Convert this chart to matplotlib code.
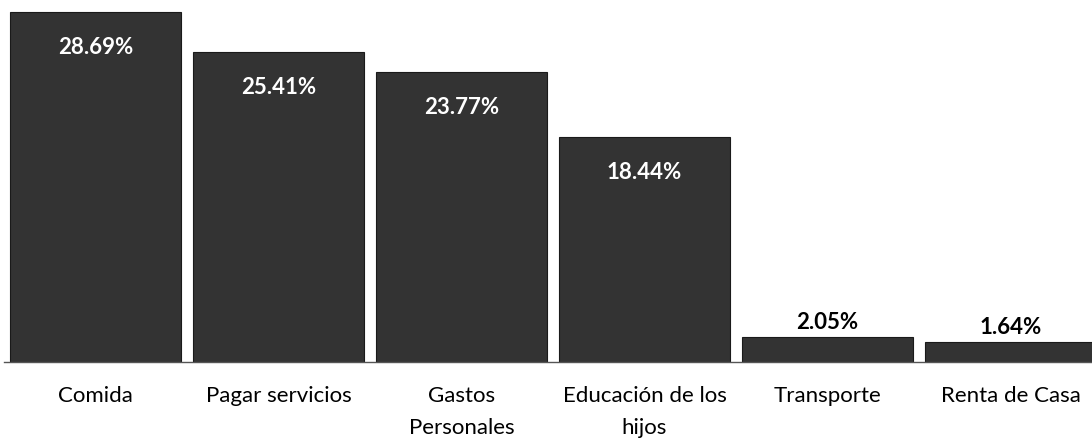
import matplotlib.pyplot as plt

categories = ["Comida", "Pagar servicios", "Gastos\nPersonales",
              "Educación de los\nhijos", "Transporte", "Renta de Casa"]
values = [28.69, 25.41, 23.77, 18.44, 2.05, 1.64]
labels = ["28.69%", "25.41%", "23.77%", "18.44%", "2.05%", "1.64%"]

plt.rcParams["font.family"] = ["Lato", "DejaVu Sans"]

fig = plt.figure(figsize=(10.92, 4.40), dpi=100)
ax = fig.add_axes([4 / 1092, 78 / 440, 1098 / 1092, 351 / 440])

x = list(range(len(categories)))
bars = ax.bar(x, values, width=0.935, color="#333333", edgecolor="#1a1a1a", linewidth=0.8)

for xi, v, lab in zip(x, values, labels):
    if v > 10:
        ax.text(xi, v - 2.9, lab, ha="center", va="center", color="white",
                fontsize=16, fontweight="bold")
    else:
        ax.text(xi, v + 1.15, lab, ha="center", va="center", color="black",
                fontsize=16, fontweight="bold")

ax.set_xlim(-0.5, len(categories) - 0.5)
ax.set_ylim(0, 28.69 * 351 / 350)
ax.set_xticks(x)
ax.set_xticklabels(categories, fontsize=16, linespacing=1.75, va="top")
ax.tick_params(axis="x", length=0, pad=17)
ax.set_yticks([])
for side in ["top", "right", "left"]:
    ax.spines[side].set_visible(False)
ax.spines["bottom"].set_color("#555555")
ax.spines["bottom"].set_linewidth(1.0)

fig.savefig("out.png", dpi=100)
